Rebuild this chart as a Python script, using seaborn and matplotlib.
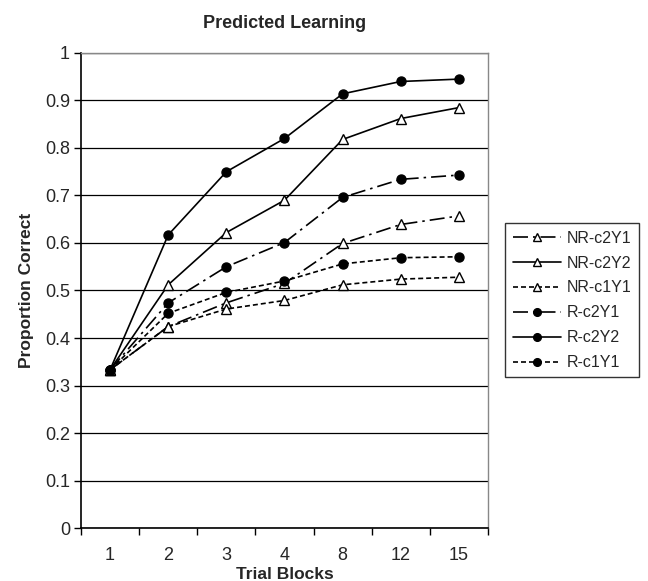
import seaborn as sns
import matplotlib.pyplot as plt
from matplotlib.ticker import FixedLocator

# data
blocks = ["1", "2", "3", "4", "8", "12", "15"]
nr_c2y1 = [0.333, 0.424, 0.474, 0.515, 0.599, 0.639, 0.657]
nr_c2y2 = [0.333, 0.512, 0.622, 0.690, 0.818, 0.862, 0.885]
nr_c1y1 = [0.333, 0.424, 0.461, 0.479, 0.512, 0.524, 0.528]
r_c2y1 = [0.333, 0.474, 0.550, 0.601, 0.696, 0.734, 0.743]
r_c2y2 = [0.333, 0.617, 0.750, 0.820, 0.914, 0.940, 0.945]
r_c1y1 = [0.333, 0.452, 0.496, 0.520, 0.556, 0.569, 0.571]
y_ticks = [0, 0.1, 0.2, 0.3, 0.4, 0.5, 0.6, 0.7, 0.8, 0.9, 1]

series = [
    ("NR-c2Y1", nr_c2y1),
    ("NR-c2Y2", nr_c2y2),
    ("NR-c1Y1", nr_c1y1),
    ("R-c2Y1", r_c2y1),
    ("R-c2Y2", r_c2y2),
    ("R-c1Y1", r_c1y1),
]

sns.set_style("white")
plt.rcParams['font.family'] = ['Liberation Sans', 'DejaVu Sans']

fig = plt.figure(figsize=(6.48, 5.81), dpi=100)
ax = fig.add_axes([0.125, 0.0912, 0.628, 0.8176])

dash_styles = {"c2Y1": (9, 3, 1.5, 3), "c2Y2": "", "c1Y1": (3, 1.8)}

for name, vals in series:
    kind = name.split("-")[1]
    is_nr = name.startswith("NR")
    sns.lineplot(x=blocks, y=vals, ax=ax, color="black", lw=1.2,
                 marker="^" if is_nr else "o",
                 markersize=7 if is_nr else 6.5,
                 markerfacecolor="white" if is_nr else "black",
                 markeredgecolor="black", markeredgewidth=1.0,
                 label=name, zorder=3)
    if dash_styles[kind]:
        ax.lines[-1].set_dashes(dash_styles[kind])

ax.set_xlim(-0.5, 6.5)
ax.set_ylim(0, 1)
ax.set_yticks(y_ticks)
ax.set_yticklabels([f"{v:g}" for v in y_ticks])
ax.yaxis.grid(True, color="black", lw=0.9)
ax.set_axisbelow(True)

ax.xaxis.set_minor_locator(FixedLocator([i - 0.5 for i in range(8)]))
ax.tick_params(axis="x", which="major", length=0, pad=14, labelsize=13)
ax.tick_params(axis="x", which="minor", length=5, direction="out", width=1, color="black", bottom=True)
ax.tick_params(axis="y", which="major", length=5, direction="out", width=1, color="black", left=True, labelsize=13, pad=3)

for side in ["left", "bottom"]:
    ax.spines[side].set_color("black")
    ax.spines[side].set_linewidth(1.2)
for side in ["top", "right"]:
    ax.spines[side].set_color("#888888")
    ax.spines[side].set_linewidth(1.0)

ax.set_title("Predicted Learning", fontsize=13, fontweight="bold", pad=18)
ax.set_xlabel("Trial Blocks", fontsize=12.5, fontweight="bold", labelpad=2)
ax.set_ylabel("Proportion Correct", fontsize=12.5, fontweight="bold", labelpad=8)

ax.legend(loc="center", bbox_to_anchor=(0.883, 0.483), bbox_transform=fig.transFigure,
          frameon=True, fancybox=False, edgecolor="black", fontsize=11.5,
          handlelength=3.0, labelspacing=0.62, borderpad=0.45, handletextpad=0.4,
          markerscale=0.85)

fig.savefig("out.png", dpi=100)
